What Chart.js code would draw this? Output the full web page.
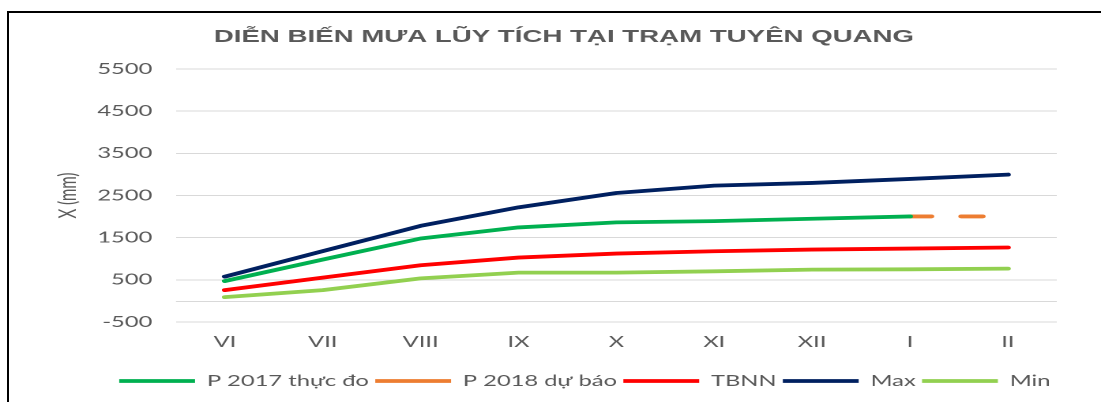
<!DOCTYPE html>
<html>
<head>
<meta charset="utf-8">
<script src="https://cdn.jsdelivr.net/npm/chart.js@4.4.0/dist/chart.umd.min.js"></script>
<style>
  html, body { margin: 0; padding: 0; background: #fff; overflow: hidden; width: 1101px; height: 402px; }
  #wrap { position: absolute; left: 0; top: 0; width: 697px; height: 402px; transform: scaleX(1.5796); transform-origin: 0 0; }
  #frame { position: absolute; left: 7px; top: 11px; width: 1094px; height: 391px; border-top: 2px solid #000; border-left: 2px solid #000; box-sizing: border-box; pointer-events: none; }
</style>
</head>
<body>
<div id="wrap"><canvas id="chart" width="697" height="402"></canvas></div>
<div id="frame"></div>
<script>
	// the source picture is stretched sideways, so the chart is drawn narrow and scaled in x
	var TITLE = 'DIỄN BIẾN MƯA LŨY TÍCH TẠI TRẠM TUYÊN QUANG';
	var months = ['VI', 'VII', 'VIII', 'IX', 'X', 'XI', 'XII', 'I', 'II'];

	var p2017 = [470, 980, 1480, 1743, 1862, 1893, 1948, 2004, null];
	var p2018 = [null, null, null, null, null, null, null, 2004, 2004];
	var tbnn = [257, 552, 845, 1028, 1123, 1178, 1218, 1242, 1266];
	var maxRain = [576, 1180, 1780, 2219, 2560, 2734, 2798, 2893, 2996];
	var minRain = [90, 257, 535, 671, 671, 702, 742, 750, 766];

	var grey = '#595959';
	var gridGrey = '#d9d9d9';
	var labelFont = { family: 'Lato, "Open Sans", sans-serif', size: 15 };

	function line(label, data, color, dash) {
		return {
			label: label,
			data: data,
			borderColor: color,
			backgroundColor: color,
			borderWidth: 3.8,
			borderCapStyle: 'round',
			borderJoinStyle: 'round',
			borderDash: dash || [],
			pointRadius: 0,
			pointHoverRadius: 0,
			tension: 0,
			spanGaps: false
		};
	}

	var titlePlugin = {
		id: 'titleText',
		afterDraw: function(chart) {
			var ctx = chart.ctx;
			ctx.save();
			ctx.font = 'bold 17.5px "Liberation Sans", Arial, sans-serif';
			ctx.fillStyle = grey;
			ctx.textAlign = 'center';
			ctx.textBaseline = 'middle';
			ctx.fillText(TITLE, 357, 37);
			ctx.restore();
		}
	};

	// Excel draws the category axis at 0 as a plain grey line
	var zeroLine = {
		id: 'zeroLine',
		beforeDatasetsDraw: function(chart) {
			var area = chart.chartArea;
			var y = Math.round(chart.scales.y.getPixelForValue(0)) + 0.5;
			var ctx = chart.ctx;
			ctx.save();
			ctx.strokeStyle = gridGrey;
			ctx.lineWidth = 1;
			ctx.beginPath();
			ctx.moveTo(area.left, y);
			ctx.lineTo(area.right, y);
			ctx.stroke();
			ctx.restore();
		}
	};

	new Chart(document.getElementById('chart').getContext('2d'), {
		type: 'line',
		data: {
			labels: months,
			datasets: [
				line('P 2017 thực đo', p2017, '#00b050'),
				line('P 2018 dự báo', p2018, '#ed7d31', [13.5, 19]),
				line('TBNN', tbnn, '#ff0000'),
				line('Max', maxRain, '#002060'),
				line('Min', minRain, '#92d050')
			]
		},
		options: {
			responsive: false,
			devicePixelRatio: 2,
			animation: false,
			layout: { padding: { left: 0, right: 28, top: 69, bottom: 3.5 } },
			plugins: {
				tooltip: { enabled: false },
				legend: {
					position: 'bottom',
					align: 'end',
					labels: {
						usePointStyle: true,
						pointStyle: 'line',
						pointStyleWidth: 48,
						padding: 4,
						color: grey,
						font: labelFont
					}
				}
			},
			scales: {
				x: {
					offset: true,
					grid: { display: false },
					border: { display: false },
					ticks: { color: grey, font: labelFont, padding: 3, maxRotation: 0 },
					afterFit: function(scale) { scale.height = 47.5; }
				},
				y: {
					min: -500,
					max: 5500,
					afterFit: function(scale) { scale.width = 111.4; },
					grid: { color: gridGrey, lineWidth: 1, drawTicks: false },
					border: { display: false },
					ticks: {
						stepSize: 1000,
						color: grey,
						font: labelFont,
						padding: 15,
						callback: function(v) { return String(v); }
					},
					title: {
						display: true,
						text: 'X (mm)',
						color: grey,
						font: labelFont,
						padding: { top: 34, bottom: 0 }
					}
				}
			}
		},
		plugins: [zeroLine, titlePlugin]
	});
</script>
</body>
</html>
